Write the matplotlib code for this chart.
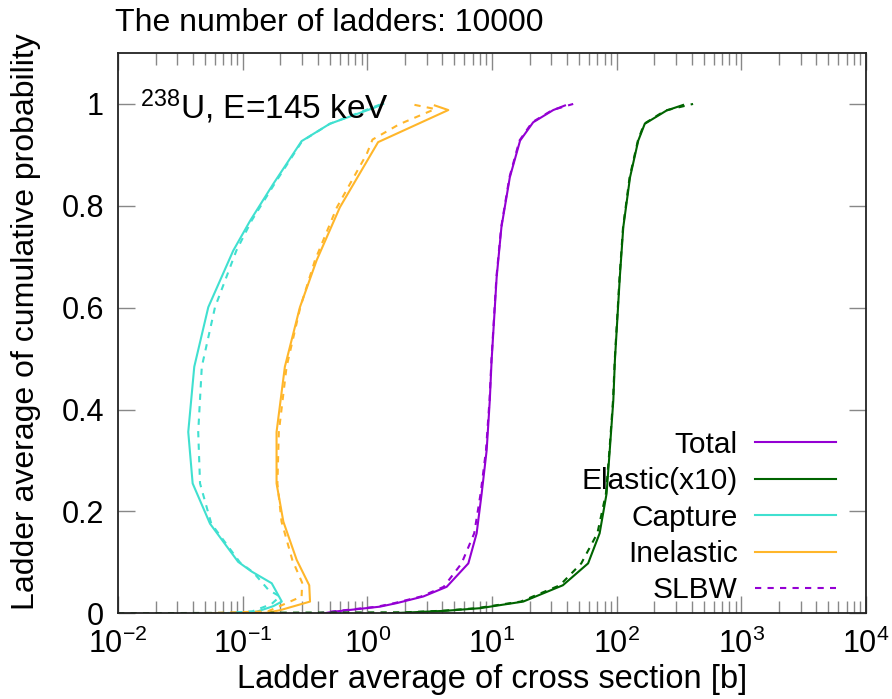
import matplotlib
matplotlib.use("Agg")
import matplotlib.pyplot as plt
from matplotlib.ticker import LogLocator, FixedLocator, NullFormatter, NullLocator
import numpy as np

plt.rcParams["font.family"] = ["Liberation Sans", "DejaVu Sans"]
plt.rcParams["mathtext.fontset"] = "custom"
plt.rcParams["mathtext.rm"] = "Liberation Sans"
plt.rcParams["mathtext.it"] = "Liberation Sans:italic"

# Cumulative probability vs ladder-averaged cross section [b]
# Total (R-matrix)
tot_y = [0.0, 0.003, 0.013, 0.020, 0.033, 0.052, 0.098, 0.157, 0.235, 0.320,
         0.418, 0.497, 0.660, 0.758, 0.856, 0.928, 0.964, 0.988, 0.997]
tot_x = [0.45, 0.53, 1.26, 1.72, 2.81, 4.33, 6.46, 7.53, 8.26, 9.06,
         9.6, 9.93, 10.9, 11.9, 13.9, 16.8, 21.4, 31.0, 38.5]
# Total (SLBW)
tot_s_y = [0.0, 0.003, 0.013, 0.020, 0.033, 0.052, 0.098, 0.157, 0.235, 0.320,
           0.418, 0.497, 0.660, 0.758, 0.856, 0.928, 0.964, 0.988, 1.0]
tot_s_x = [0.40, 0.50, 1.20, 1.65, 2.70, 4.10, 5.70, 7.20, 8.10, 8.95,
           9.55, 9.90, 10.85, 11.85, 13.8, 16.6, 21.0, 30.5, 44.8]

# Elastic (R-matrix), plotted x10
ela_y = [0.0, 0.002, 0.005, 0.010, 0.023, 0.055, 0.098, 0.157, 0.235, 0.320,
         0.418, 0.497, 0.660, 0.758, 0.856, 0.928, 0.961, 0.987, 0.998]
ela_x = [0.15, 0.23, 0.43, 0.80, 1.78, 3.7, 5.9, 7.3, 8.3, 8.8,
         9.4, 9.68, 10.6, 11.3, 12.8, 14.9, 16.8, 25.1, 34.1]
# Elastic (SLBW), plotted x10
ela_s_y = [0.0, 0.001, 0.002, 0.005, 0.010, 0.023, 0.055, 0.098, 0.157, 0.235,
           0.320, 0.418, 0.497, 0.660, 0.758, 0.856, 0.928, 0.961, 0.987, 1.0]
ela_s_x = [0.001, 0.01, 0.2, 0.4, 0.75, 1.7, 3.5, 5.2, 7.0, 8.2,
           8.75, 9.35, 9.65, 10.55, 11.25, 12.7, 14.8, 16.6, 24.5, 41.0]

# Capture (R-matrix)
cap_y = [0.0, 0.003, 0.014, 0.023, 0.059, 0.082, 0.101, 0.176, 0.255, 0.356,
         0.484, 0.601, 0.712, 0.771, 0.843, 0.927, 0.961, 0.980, 0.993, 1.0]
cap_x = [0.075, 0.129, 0.176, 0.206, 0.171, 0.118, 0.092, 0.0547, 0.0397, 0.0366,
         0.0409, 0.053, 0.084, 0.115, 0.176, 0.297, 0.50, 0.82, 1.15, 1.34]
# Capture (SLBW)
cap_s_y = [0.0, 0.004, 0.018, 0.033, 0.046, 0.080, 0.100, 0.176, 0.255, 0.356,
           0.484, 0.601, 0.712, 0.771, 0.843, 0.927, 0.961, 0.980, 0.993, 1.0]
cap_s_x = [0.070, 0.120, 0.170, 0.199, 0.161, 0.122, 0.095, 0.056, 0.0455, 0.044,
           0.047, 0.060, 0.089, 0.118, 0.180, 0.300, 0.50, 0.80, 1.10, 1.30]

# Inelastic (R-matrix)
inel_y = [0.0, 0.001, 0.006, 0.023, 0.055, 0.105, 0.180, 0.255, 0.356, 0.484,
          0.601, 0.693, 0.797, 0.925, 0.988, 0.997]
inel_x = [0.05, 0.155, 0.199, 0.347, 0.342, 0.271, 0.212, 0.187, 0.187, 0.218,
          0.288, 0.392, 0.602, 1.22, 4.46, 3.48]
# Inelastic (SLBW)
inel_s_y = [0.0, 0.004, 0.033, 0.060, 0.105, 0.180, 0.255, 0.356, 0.484, 0.601,
            0.693, 0.797, 0.902, 0.930, 0.960, 0.990, 1.0]
inel_s_x = [0.05, 0.16, 0.297, 0.300, 0.250, 0.205, 0.190, 0.195, 0.225, 0.290,
            0.380, 0.570, 0.990, 1.10, 1.80, 3.50, 2.20]

elastic_scale = 10

labels = ["Total", "Elastic(x10)", "Capture", "Inelastic", "SLBW"]
c_tot = "#9400d3"
c_ela = "#006400"
c_cap = "#40e0d0"
c_inel = "#ffb62a"

xtick_vals = [1e-2, 1e-1, 1e0, 1e1, 1e2, 1e3, 1e4]
xtick_labels = [r"$\mathregular{10^{-2}}$", r"$\mathregular{10^{-1}}$",
                r"$\mathregular{10^{0}}$", r"$\mathregular{10^{1}}$",
                r"$\mathregular{10^{2}}$", r"$\mathregular{10^{3}}$",
                r"$\mathregular{10^{4}}$"]
ytick_vals = [0, 0.2, 0.4, 0.6, 0.8, 1.0]
ytick_labels = ["0", "0.2", "0.4", "0.6", "0.8", "1"]

fig = plt.figure(figsize=(8.92, 6.99), dpi=100)
ax = fig.add_axes([118 / 892, 1 - 613.3 / 699, 748 / 892, 560.3 / 699])

lw = 1.5
dash = (0, (3.0, 3.0))
ax.plot(tot_x, tot_y, color=c_tot, lw=lw, label=labels[0])
ax.plot(np.array(ela_x) * elastic_scale, ela_y, color=c_ela, lw=lw, label=labels[1])
ax.plot(cap_x, cap_y, color=c_cap, lw=lw, label=labels[2])
ax.plot(inel_x, inel_y, color=c_inel, lw=lw, label=labels[3])
ax.plot(tot_s_x, tot_s_y, color=c_tot, lw=lw, ls=dash, label=labels[4])
ax.plot(np.array(ela_s_x) * elastic_scale, ela_s_y, color=c_ela, lw=lw, ls=dash)
ax.plot(cap_s_x, cap_s_y, color=c_cap, lw=lw, ls=dash)
ax.plot(inel_s_x, inel_s_y, color=c_inel, lw=lw, ls=dash)

ax.set_xscale("log")
ax.set_xlim(1e-2, 1e4)
ax.set_ylim(0, 1.1)
ax.xaxis.set_major_locator(FixedLocator(xtick_vals))
ax.set_xticklabels(xtick_labels)
ax.xaxis.set_minor_locator(LogLocator(base=10, subs=np.arange(2, 10), numticks=50))
ax.xaxis.set_minor_formatter(NullFormatter())
ax.set_yticks(ytick_vals)
ax.set_yticklabels(ytick_labels)
ax.yaxis.set_minor_locator(NullLocator())

ax.tick_params(which="both", direction="in", top=True, right=True,
               color="#888888", width=1.0, labelsize=22)
ax.tick_params(axis="x", pad=11)
ax.tick_params(axis="y", pad=10)
ax.tick_params(which="major", length=12)
ax.tick_params(which="minor", length=8.5)
for sp in ax.spines.values():
    sp.set_linewidth(1.3)
    sp.set_color("#222222")

ax.set_xlabel("Ladder average of cross section [b]", fontsize=23.5, labelpad=3)
ax.set_ylabel("Ladder average of cumulative probability", fontsize=23)
ax.yaxis.set_label_coords(-0.103, 0.52)

ax.text(0.029, 0.971 / 1.1, r"$^{238}$U, E=145 keV",
        transform=ax.transAxes, fontsize=24, va="baseline", ha="left")

fig.text(115 / 892, 1 - 31 / 699, "The number of ladders: 10000",
         fontsize=23, ha="left", va="baseline")

leg = ax.legend(loc="lower right", bbox_to_anchor=(0.960, 0.016), frameon=False,
                markerfirst=False, handlelength=2.7, handletextpad=0.6,
                labelspacing=0.28, borderpad=0, borderaxespad=0, fontsize=21.5)

fig.savefig("out.png", dpi=100)
